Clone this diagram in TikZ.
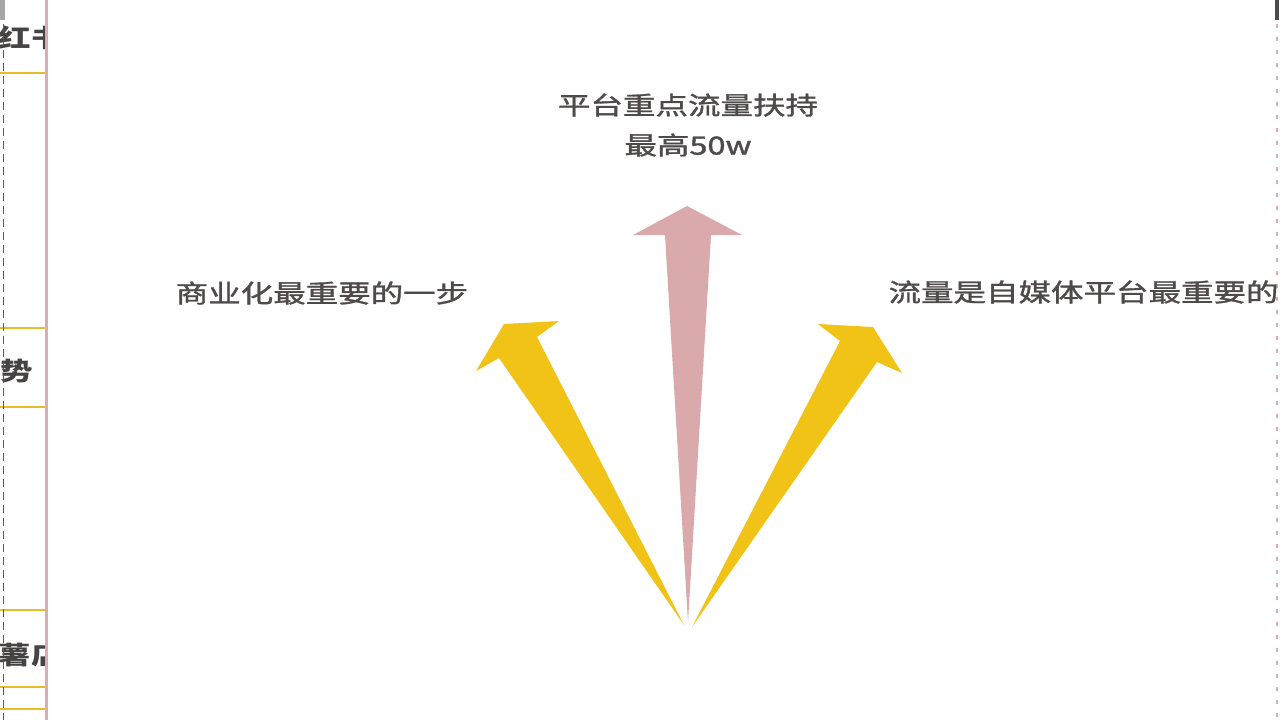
\documentclass[tikz,border=0pt]{standalone}
\usepackage{fontspec}
\newfontfamily\cjk{Noto Sans CJK SC}
\newfontfamily\cjkmid[FakeBold=1.2]{Noto Sans CJK SC}
\definecolor{txtgray}{RGB}{78, 74, 74}
\definecolor{arrowyellow}{RGB}{241, 195, 23}
\definecolor{arrowpink}{RGB}{217, 169, 171}
\definecolor{rulegold}{RGB}{232, 190, 40}
\definecolor{edgepink}{RGB}{222, 172, 176}
\definecolor{dashgray}{RGB}{90, 90, 90}
\usetikzlibrary{positioning}
\tikzset{
	caption/.style={font=\cjkmid\fontsize{12.5}{20}\selectfont, text=txtgray, inner sep=0pt, align=center, xscale=1.3, transform shape},
	tabtext/.style={font=\cjk\bfseries\fontsize{12.5}{15}\selectfont, text=txtgray!90!black, inner sep=0pt, xscale=1.3, transform shape},
	tabrule/.style={draw=rulegold, line width=1pt},
	yarrow/.style={fill=arrowyellow, draw=none},
	parrow/.style={fill=arrowpink, draw=none},
}

\begin{document}
\begin{tikzpicture}[x=0.5pt, y=-0.5pt]
		\fill[white] (0,0) rectangle (1280,720);
		\useasboundingbox (0,0) rectangle (1280,720);
		% left slide strip
		\begin{scope}
			\clip (0,0) rectangle (46,720);
			\node[tabtext, anchor=west] (tab1) at (-2,38) {红书};
			\node[tabtext, anchor=west] (tab2) at (0,371) {势};
			\node[tabtext, anchor=west] (tab3) at (-2,655) {薯店};
			\foreach \y in {73,328,407,610,687,709}
				\draw[tabrule] (0,\y) -- (46,\y);
		\end{scope}
		\fill[gray!70] (0,0) rectangle (5,20);
		\draw[dashgray, line width=0.5pt, dash pattern=on 4pt off 2.5pt] (3.5,24) -- (3.5,720);
		\draw[edgepink, line width=1.5pt] (46.5,0) -- (46.5,720);
		% right edge
		\fill[txtgray] (1275,0) rectangle (1279,20);
		\draw[edgepink, line width=0.8pt, dash pattern=on 2pt off 4.5pt] (1277,24) -- (1277,720);
		% arrows
		\fill[yarrow] (684,625) -- (499,358) -- (476,371) -- (504,324) -- (559,321) -- (537,337) -- cycle;
		\fill[yarrow] (692,627) -- (840,341) -- (818,324) -- (873,327) -- (902,373) -- (877,362) -- cycle;
		\fill[parrow] (688,622) -- (665,235) -- (633,235) -- (687,206) -- (742,235) -- (711,235) -- cycle;
		% labels
		\node[caption] (top) at (688,125) {平台重点流量扶持\\最高50w};
		\node[caption] (left) at (322,293) {商业化最重要的一步};
		\node[caption, anchor=west] (right) at (888,292) {流量是自媒体平台最重要的};
	\end{tikzpicture}
\end{document}
